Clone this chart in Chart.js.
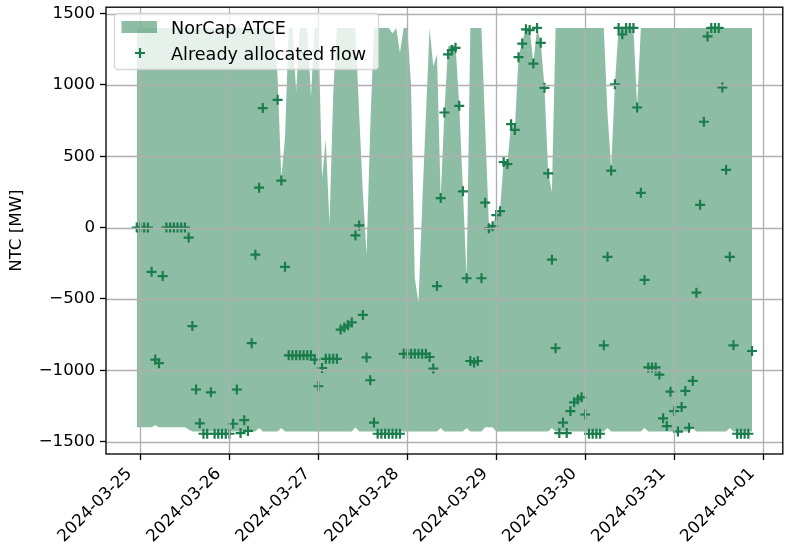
<!DOCTYPE html>
<html>
<head>
<meta charset="utf-8">
<script src="https://cdn.jsdelivr.net/npm/chart.js@4.4.0/dist/chart.umd.min.js"></script>
<style>
  body { margin: 0; background: #fff; }
  #wrap { width: 790px; height: 553px; }
</style>
</head>
<body>
<div id="wrap"><canvas id="ntc" width="790" height="553"></canvas></div>
<script>
// hours are counted from 2024-03-25 00:00, first value sits at hour -1
const startHour = -1;

// x ticks
const dayHours = [0, 24, 48, 72, 96, 120, 144, 168];
const dayLabels = ['2024-03-25', '2024-03-26', '2024-03-27', '2024-03-28',
                   '2024-03-29', '2024-03-30', '2024-03-31', '2024-04-01'];
// y ticks
const yTicks = [-1500, -1000, -500, 0, 500, 1000, 1500];

// NorCap ATCE upper edge, one value per hour (rows of 12 hours)
const atceUpper = [
  1400, 1400, 1400, 1400, 1400, 1400, 1400, 1400, 1400, 1400, 1400, 1400,   // -1..10
  1400, 1400, 1400, 1400, 1400, 1400, 1400, 1400, 1400, 1400, 1400, 1400,   // 11..22
  1400, 1400, 1400, 1400, 1400, 1400, 1400, 1400, 1400, 1400, 1400, 1400,   // 23..34
  1400, 1400, 1050, 350, 630, 1400, 1400, 950, 1400, 1400, 1400, 920,       // 35..46
  1400, 1400, 340, 620, 20, 940, 1400, 1400, 1400, 1400, 1400, 1400,        // 47..58
  800, 250, -190, 700, 1400, 1400, 1400, 1400, 1400, 1360, 1400, 1225,      // 59..70
  1400, 1400, 1000, -350, -530, 150, 780, 1400, 1130, 1215, 207, 810,       // 71..82
  1270, 1280, 1275, 860, 260, -355, 1400, 1400, 1400, 1400, 700, 30,        // 83..94
  15, 90, 120, 470, 450, 730, 690, 1200, 1300, 1400, 1400, 1150,            // 95..106
  1400, 1300, 985, 385, 250, 1400, 1400, 1400, 1400, 1400, 1400, 1400,      // 107..118
  1400, 1400, 1400, 1400, 1400, 1400, 1400, 800, 420, 1005, 1400, 1400,     // 119..130
  1400, 1400, 1400, 850, 1400, 1400, 1400, 1400, 1400, 1400, 1400, 1400,    // 131..142
  1400, 1400, 1400, 1400, 1400, 1400, 1400, 1400, 1400, 1400, 1400, 1400,   // 143..154
  1400, 1400, 1400, 1400, 1400, 1400, 1400, 1400, 1400, 1400, 1400          // 155..165
];

// NorCap ATCE lower edge
const atceLower = [
  -1400, -1400, -1400, -1400, -1400, -1385, -1400, -1400, -1400, -1400, -1400, -1400,
  -1400, -1400, -1415, -1430, -1430, -1430, -1430, -1430, -1430, -1430, -1430, -1430,
  -1430, -1430, -1430, -1430, -1430, -1430, -1430, -1430, -1430, -1405, -1430, -1430,
  -1430, -1430, -1430, -1405, -1430, -1430, -1430, -1430, -1430, -1430, -1430, -1430,
  -1430, -1430, -1430, -1430, -1430, -1430, -1430, -1430, -1430, -1430, -1430, -1400,
  -1430, -1430, -1430, -1430, -1430, -1430, -1430, -1430, -1430, -1430, -1430, -1430,
  -1430, -1430, -1430, -1430, -1430, -1430, -1430, -1430, -1430, -1430, -1405, -1430,
  -1430, -1430, -1430, -1430, -1430, -1405, -1430, -1430, -1430, -1430, -1400, -1400,
  -1400, -1430, -1430, -1430, -1430, -1430, -1430, -1430, -1430, -1430, -1430, -1430,
  -1430, -1430, -1430, -1430, -1405, -1430, -1430, -1430, -1430, -1430, -1430, -1430,
  -1430, -1430, -1430, -1430, -1430, -1430, -1430, -1405, -1430, -1430, -1430, -1430,
  -1430, -1430, -1430, -1430, -1430, -1405, -1430, -1430, -1430, -1430, -1430, -1430,
  -1430, -1430, -1430, -1430, -1430, -1430, -1405, -1430, -1430, -1430, -1430, -1430,
  -1430, -1430, -1430, -1430, -1405, -1430, -1430, -1430, -1430, -1430, -1430
];

// already allocated flow (null = no value)
const allocFlow = [
  0, 0, 0, 0, -310, -925, -950, -340, 0, 0, 0, 0,
  0, 0, -70, -690, -1135, -1372, -1445, -1445, -1155, -1445, -1445, -1445,
  -1445, -1445, -1375, -1135, -1440, -1350, -1425, -810, -190, 280, 838, null,
  null, null, 896, 330, -275, -895, -895, -895, -895, -895, -895, -895,
  -925, -1112, -984, -920, -920, -920, -920, -715, -700, -685, -665, -55,
  15, -612, -910, -1070, -1367, -1445, -1445, -1445, -1445, -1445, -1445, -1445,
  -885, -885, -885, -885, -885, -885, -885, -907, -988, -410, 207, 807,
  1215, 1245, 1260, 854, 254, -355, -935, -945, -935, -355, 175, -5,
  10, 87, 115, 460, 445, 725, 685, 1195, 1290, 1390, 1385, 1150,
  1400, 1295, 980, 380, -225, -845, -1440, -1367, -1440, -1286, -1225, -1205,
  -1190, -1310, -1445, -1445, -1445, -1445, -825, -205, 400, 1005, 1400, 1355,
  1400, 1400, 1400, 842, 244, -367, -980, -980, -980, -1030, -1337, -1391,
  -1150, -1286, -1430, -1258, -1145, -1403, -1075, -456, 160, 742, 1340, 1400,
  1400, 1400, 982, 405, -205, -825, -1445, -1445, -1445, -1445, -865
];

const green = '#1b7d4b';
const greenFill = 'rgba(27,125,75,0.5)';
const FONT = 16.67;
const LEG_FONT = 17.6;

const pts = arr => arr.map((v, i) => ({ x: i + startHour, y: v }));
const minus = v => v < 0 ? '\u2212' + Math.abs(v) : String(v);

// grid on top of fill and markers (like matplotlib), then spines and legend
const overlay = {
  id: 'overlay',
  afterDatasetsDraw(chart) {
    const ctx = chart.ctx, a = chart.chartArea;
    const xs = chart.scales.x, ys = chart.scales.y;
    ctx.save();
    ctx.strokeStyle = '#b0b0b0';
    ctx.lineWidth = 1.33;
    ctx.beginPath();
    dayHours.forEach(h => {
      const px = Math.round(xs.getPixelForValue(h)) + 0.5;
      ctx.moveTo(px, a.top); ctx.lineTo(px, a.bottom);
    });
    yTicks.forEach(v => {
      const py = Math.round(ys.getPixelForValue(v)) + 0.5;
      ctx.moveTo(a.left, py); ctx.lineTo(a.right, py);
    });
    ctx.stroke();

    ctx.strokeStyle = '#000';
    ctx.lineWidth = 1.33;
    ctx.strokeRect(a.left, a.top, a.right - a.left, a.bottom - a.top);

    // legend box
    ctx.font = LEG_FONT + 'px "DejaVu Sans"';
    const labels = ['NorCap ATCE', 'Already allocated flow'];
    const bx = 114.5, by = 13.5;
    const bw = 264, bh = 56;
    ctx.beginPath();
    ctx.roundRect(bx, by, bw, bh, 3.5);
    ctx.fillStyle = 'rgba(255,255,255,0.8)';
    ctx.fill();
    ctx.strokeStyle = 'rgba(204,204,204,0.8)';
    ctx.lineWidth = 1.3;
    ctx.stroke();

    const hx = 121.5;
    ctx.fillStyle = greenFill;
    ctx.fillRect(hx, 21, 35.5, 12);
    ctx.strokeStyle = green;
    ctx.lineWidth = 2.2;
    ctx.beginPath();
    ctx.moveTo(140 - 5, 53); ctx.lineTo(140 + 5, 53);
    ctx.moveTo(140, 48); ctx.lineTo(140, 58);
    ctx.stroke();

    ctx.fillStyle = '#000';
    ctx.textBaseline = 'alphabetic';
    ctx.textAlign = 'left';
    ctx.fillText(labels[0], 171, 33.5);
    ctx.fillText(labels[1], 171, 59.5);
    ctx.restore();
  }
};

Chart.defaults.font.family = '"DejaVu Sans"';
Chart.defaults.font.size = FONT;
Chart.defaults.color = '#000';

new Chart(document.getElementById('ntc'), {
  type: 'line',
  data: {
    datasets: [
      {
        label: 'Already allocated flow',
        data: pts(allocFlow),
        showLine: false,
        pointStyle: 'cross',
        pointRadius: 5,
        pointBorderWidth: 2.2,
        pointBorderColor: green,
        pointBackgroundColor: green
      },
      {
        label: 'NorCap ATCE',
        data: pts(atceUpper),
        borderWidth: 0,
        pointRadius: 0,
        tension: 0,
        backgroundColor: greenFill,
        fill: 2
      },
      {
        label: 'lower',
        data: pts(atceLower),
        borderWidth: 0,
        pointRadius: 0,
        tension: 0,
        fill: false
      }
    ]
  },
  options: {
    responsive: false,
    animation: false,
    devicePixelRatio: 1,
    layout: { padding: { left: 0, right: 3, top: 2, bottom: 0 } },
    plugins: {
      legend: { display: false },
      tooltip: { enabled: false }
    },
    scales: {
      x: {
        type: 'linear',
        min: -9.3,
        max: 173.3,
        afterBuildTicks: s => { s.ticks = dayHours.map(v => ({ value: v })); },
        afterFit: s => { s.height = 99; s.paddingLeft = 0; s.paddingRight = 0; },
        border: { display: false },
        grid: { drawOnChartArea: false, drawTicks: true, tickLength: 6, tickColor: '#000', tickWidth: 1.33 },
        ticks: {
          autoSkip: false,
          minRotation: 45,
          maxRotation: 45,
          padding: 4,
          labelOffset: -11,
          callback: v => dayLabels[dayHours.indexOf(v)]
        }
      },
      y: {
        min: -1587,
        max: 1545,
        afterBuildTicks: s => { s.ticks = yTicks.map(v => ({ value: v })); },
        afterFit: s => { s.width = 106; s.paddingTop = 0; s.paddingBottom = 0; },
        border: { display: false },
        grid: { drawOnChartArea: false, drawTicks: true, tickLength: 6, tickColor: '#000', tickWidth: 1.33 },
        ticks: { padding: 5, callback: v => minus(v) },
        title: { display: true, text: 'NTC [MW]', padding: { top: 7, bottom: 0 } }
      }
    }
  },
  plugins: [overlay]
});
</script>
</body>
</html>
